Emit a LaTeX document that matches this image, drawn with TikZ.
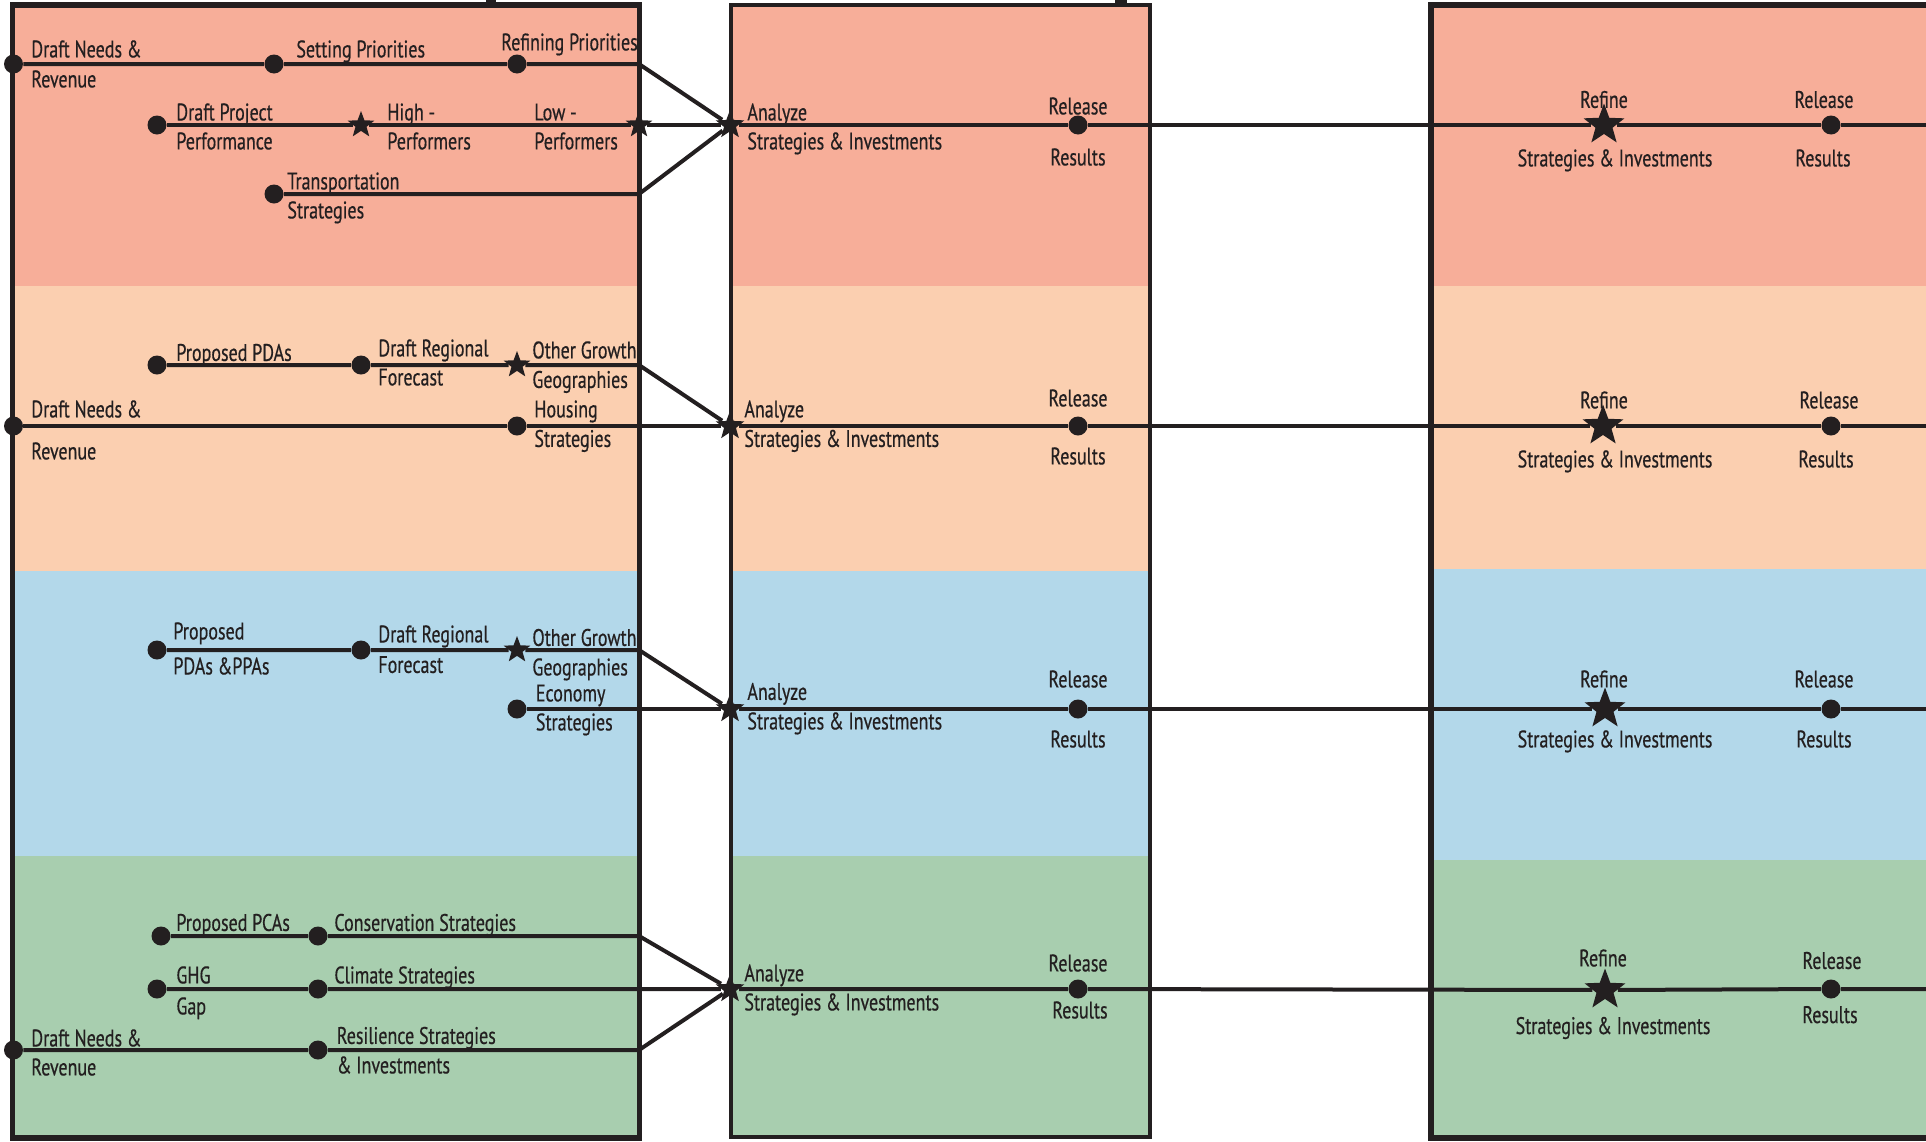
\documentclass[tikz,border=0pt]{standalone}
\usepackage{fontspec}
\setmainfont[FakeStretch=0.75,FakeBold=0.5]{PT Sans}
\usetikzlibrary{shapes.geometric}
\definecolor{ink}{HTML}{231F20}
\definecolor{bpink}{HTML}{F7AE99}
\definecolor{bpeach}{HTML}{FBCFB0}
\definecolor{bblue}{HTML}{B3D8EA}
\definecolor{bgreen}{HTML}{A8CEAF}
\tikzset{
  dot/.style={circle,fill=ink,inner sep=0pt,minimum size=9.5pt},
  sstar/.style={star,star points=5,star point ratio=2.4,fill=ink,inner sep=0pt,minimum size=14pt},
  mstar/.style={sstar,minimum size=15pt},
  bstar/.style={sstar,minimum size=21.5pt},
  lbl/.style={inner sep=0pt,text=ink,font=\fontsize{12}{14}\selectfont,text height=8.4pt,text depth=0pt},
  lw/.style={lbl,anchor=west},
  lc/.style={lbl,anchor=center},
  ln/.style={draw=ink,line width=2pt,line join=round},
  frame/.style={draw=ink,line width=2.6pt}
}
\begin{document}
\begin{tikzpicture}[x=0.5pt,y=-0.5pt]
\useasboundingbox (0,0) rectangle (1926,1141);
% band fills
\fill[bpink]  (12.5,5) rectangle (639.5,286);
\fill[bpeach] (12.5,286) rectangle (639.5,571);
\fill[bblue]  (12.5,571) rectangle (639.5,856);
\fill[bgreen] (12.5,856) rectangle (639.5,1138);
\fill[bpink]  (731,5) rectangle (1150,286);
\fill[bpeach] (731,286) rectangle (1150,571);
\fill[bblue]  (731,571) rectangle (1150,856);
\fill[bgreen] (731,856) rectangle (1150,1137);
\fill[bpink]  (1431,5) rectangle (1940,286);
\fill[bpeach] (1431,286) rectangle (1940,569);
\fill[bblue]  (1431,569) rectangle (1940,860);
\fill[bgreen] (1431,860) rectangle (1940,1138);
% frames
\draw[frame] (12.5,5) rectangle (639.5,1138);
\draw[frame,line width=2.2pt] (731,5) rectangle (1150,1137);
\draw[frame] (1431,5) rectangle (1945,1138);
\fill[ink] (486,0) rectangle (496,4);
\fill[ink] (1115,0) rectangle (1127,4);

% ---------- pink band ----------
\node[dot] (p1a) at (13.5,64) {};
\node[dot] (p1b) at (274,64) {};
\node[dot] (p1c) at (517,64) {};
\coordinate (p1e) at (639,64);
\node[dot] (p2a) at (157,125) {};
\node[sstar] (p2b) at (361,125) {};
\node[sstar] (p2c) at (639,125) {};
\node[dot] (p3a) at (274,194) {};
\coordinate (p3e) at (639,194);
\node[mstar] (pM) at (730,125) {};
\node[dot] (pR) at (1078,125) {};
\node[bstar] (pN) at (1604,125) {};
\node[dot] (pQ) at (1831,125) {};
\coordinate (pZ) at (1930,125);
\draw[ln] (p1a) -- (p1b) -- (p1c) -- (p1e) -- (pM);
\draw[ln] (p2a) -- (p2b) -- (p2c) -- (pM) -- (pR) -- (pN) -- (pQ) -- (pZ);
\draw[ln] (p3a) -- (p3e) -- (pM);
\node[lw] (pt1) at (31,49) {Draft Needs \&};
\node[lw] (pt2) at (31,79) {Revenue};
\node[lw] (pt3) at (296,49) {Setting Priorities};
\node[lw] (pt4) at (501,42) {Refining Priorities};
\node[lw] (pt5) at (176,112) {Draft Project};
\node[lw] (pt6) at (176,141) {Performance};
\node[lw] (pt7) at (387,112) {High -};
\node[lw] (pt8) at (387,141) {Performers};
\node[lw] (pt9) at (534,112) {Low -};
\node[lw] (pt10) at (534,141) {Performers};
\node[lw] (pt11) at (287,181) {Transportation};
\node[lw] (pt12) at (287,210) {Strategies};
\node[lw] (pt13) at (747,112) {Analyze};
\node[lw] (pt14) at (747,141) {Strategies \& Investments};
\node[lc] (pt15) at (1078,106) {Release};
\node[lc] (pt16) at (1078,157) {Results};
\node[lc] (pt17) at (1604,99.5) {Refine};
\node[lc] (pt18) at (1615,158) {Strategies \& Investments};
\node[lc] (pt19) at (1824,99.5) {Release};
\node[lc] (pt20) at (1823,158) {Results};

% ---------- peach band ----------
\node[dot] (q1a) at (157,365) {};
\node[dot] (q1b) at (361,365) {};
\node[sstar] (q1c) at (517,365) {};
\coordinate (q1e) at (639,365);
\node[dot] (q2a) at (13.5,426) {};
\node[dot] (q2b) at (517,426) {};
\node[mstar] (qM) at (730,426) {};
\node[dot] (qR) at (1078,426) {};
\node[bstar] (qN) at (1603,426) {};
\node[dot] (qQ) at (1831,426) {};
\coordinate (qZ) at (1930,426);
\draw[ln] (q1a) -- (q1b) -- (q1c) -- (q1e) -- (qM);
\draw[ln] (q2a) -- (q2b) -- (qM) -- (qR) -- (qN) -- (qQ) -- (qZ);
\node[lw] (qt1) at (176,352.5) {Proposed PDAs};
\node[lw] (qt2) at (378,348) {Draft Regional};
\node[lw] (qt3) at (378,377) {Forecast};
\node[lw] (qt4) at (532,350) {Other Growth};
\node[lw] (qt5) at (532,379.5) {Geographies};
\node[lw] (qt6) at (31,409) {Draft Needs \&};
\node[lw] (qt7) at (31,451) {Revenue};
\node[lw] (qt8) at (534,409) {Housing};
\node[lw] (qt9) at (534,438.5) {Strategies};
\node[lw] (qt10) at (744,409) {Analyze};
\node[lw] (qt11) at (744,438.5) {Strategies \& Investments};
\node[lc] (qt12) at (1078,398) {Release};
\node[lc] (qt13) at (1078,456) {Results};
\node[lc] (qt14) at (1604,400) {Refine};
\node[lc] (qt15) at (1615,459) {Strategies \& Investments};
\node[lc] (qt16) at (1829,400) {Release};
\node[lc] (qt17) at (1826,459) {Results};

% ---------- blue band ----------
\node[dot] (b1a) at (157,650) {};
\node[dot] (b1b) at (361,650) {};
\node[sstar] (b1c) at (517,650) {};
\coordinate (b1e) at (639,650);
\node[dot] (b2a) at (517,709) {};
\node[mstar] (bM) at (730,709) {};
\node[dot] (bR) at (1078,709) {};
\node[bstar] (bN) at (1605,709) {};
\node[dot] (bQ) at (1831,709) {};
\coordinate (bZ) at (1930,709);
\draw[ln] (b1a) -- (b1b) -- (b1c) -- (b1e) -- (bM);
\draw[ln] (b2a) -- (bM) -- (bR) -- (bN) -- (bQ) -- (bZ);
\node[lw] (bt1) at (173,631) {Proposed};
\node[lw] (bt2) at (173,666) {PDAs \&PPAs};
\node[lw] (bt3) at (378,634) {Draft Regional};
\node[lw] (bt4) at (378,664.5) {Forecast};
\node[lw] (bt5) at (532,637.5) {Other Growth};
\node[lw] (bt6) at (532,667) {Geographies};
\node[lw] (bt7) at (535.5,693) {Economy};
\node[lw] (bt8) at (535.5,722) {Strategies};
\node[lw] (bt9) at (747,691.5) {Analyze};
\node[lw] (bt10) at (747,721) {Strategies \& Investments};
\node[lc] (bt11) at (1078,679) {Release};
\node[lc] (bt12) at (1078,739) {Results};
\node[lc] (bt13) at (1604,679) {Refine};
\node[lc] (bt14) at (1615,739) {Strategies \& Investments};
\node[lc] (bt15) at (1824,679) {Release};
\node[lc] (bt16) at (1824,739) {Results};

% ---------- green band ----------
\node[dot] (g1a) at (161,936) {};
\node[dot] (g1b) at (318,936) {};
\coordinate (g1e) at (639,936);
\node[dot] (g2a) at (157,989) {};
\node[dot] (g2b) at (318,989) {};
\node[dot] (g3a) at (13.5,1050) {};
\node[dot] (g3b) at (318,1050) {};
\coordinate (g3e) at (639,1050);
\node[mstar] (gM) at (730,989) {};
\node[dot] (gR) at (1078,989) {};
\node[bstar] (gN) at (1605,990) {};
\node[dot] (gQ) at (1831,989) {};
\coordinate (gZ) at (1930,989);
\draw[ln] (g1a) -- (g1b) -- (g1e) -- (gM);
\draw[ln] (g2a) -- (g2b) -- (gM) -- (gR) -- (gN) -- (gQ) -- (gZ);
\draw[ln] (g3a) -- (g3b) -- (g3e) -- (gM);
\node[lw] (gt1) at (176,922.5) {Proposed PCAs};
\node[lw] (gt2) at (334,922.5) {Conservation Strategies};
\node[lw] (gt3) at (176,975) {GHG};
\node[lw] (gt4) at (176,1006) {Gap};
\node[lw] (gt5) at (334,975) {Climate Strategies};
\node[lw] (gt6) at (31,1038) {Draft Needs \&};
\node[lw] (gt7) at (31,1067) {Revenue};
\node[lw] (gt8) at (336.5,1035.5) {Resilience Strategies};
\node[lw] (gt9) at (336.5,1065) {\& Investments};
\node[lw] (gt10) at (744,973) {Analyze};
\node[lw] (gt11) at (744,1002) {Strategies \& Investments};
\node[lc] (gt12) at (1078,963) {Release};
\node[lc] (gt13) at (1080,1010) {Results};
\node[lc] (gt14) at (1603,958) {Refine};
\node[lc] (gt15) at (1613,1025.6) {Strategies \& Investments};
\node[lc] (gt16) at (1832,960.5) {Release};
\node[lc] (gt17) at (1830,1014.6) {Results};
\end{tikzpicture}
\end{document}
